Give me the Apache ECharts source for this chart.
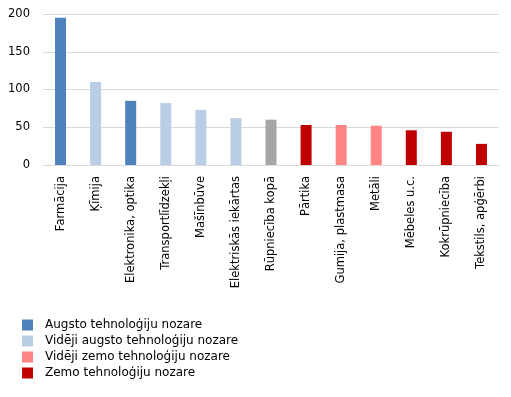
<!DOCTYPE html>
<html>
<head>
<meta charset="utf-8">
<script src="https://cdn.jsdelivr.net/npm/echarts@6/dist/echarts.min.js"></script>
<style>
  html, body { margin: 0; padding: 0; background: #fff; }
  #chart { width: 511px; height: 397px; }
</style>
</head>
<body>
<div id="chart"></div>
<script>
// nozares un vērtības
var categories = ['Farmācija', 'Ķīmija', 'Elektronika, optika', 'Transportlīdzekļi', 'Mašīnbūve',
  'Elektriskās iekārtas', 'Rūpniecība kopā', 'Pārtika', 'Gumija, plastmasa', 'Metāli',
  'Mēbeles u.c.', 'Kokrūpniecība', 'Tekstils, apģērbi'];
var values = [195, 110, 85, 82, 73, 62, 60, 53, 53, 52, 46, 44, 28];
// grupa katrai nozarei (0..3 = leģendas grupas, 4 = kopā)
var groups = [0, 1, 0, 1, 1, 1, 4, 3, 2, 2, 3, 3, 3];
var groupNames = ['Augsto tehnoloģiju nozare', 'Vidēji augsto tehnoloģiju nozare',
  'Vidēji zemo tehnoloģiju nozare', 'Zemo tehnoloģiju nozare', 'Kopā'];
var groupColors = ['#4F81BD', '#B9CDE5', '#FF8585', '#C00000', '#A6A6A6'];

document.addEventListener('DOMContentLoaded', function() {
  var myChart = echarts.init(document.getElementById('chart'));
  var font = 'DejaVu Sans';

  var series = groupNames.map(function(name, g) {
    return {
      name: name,
      type: 'bar',
      stack: 'all',
      barWidth: 11,
      itemStyle: { color: groupColors[g] },
      data: values.map(function(v, i) { return groups[i] === g ? v : null; })
    };
  });

  var option = {
    animation: false,
    textStyle: { fontFamily: font },
    grid: { left: 43, right: 12, top: 14, bottom: 232 },
    legend: {
      data: groupNames.slice(0, 4),
      orient: 'vertical',
      left: 22,
      top: 319,
      padding: 0,
      itemWidth: 11,
      itemHeight: 11,
      itemGap: 4,
      icon: 'rect',
      textStyle: { fontFamily: font, fontSize: 12, color: '#000', padding: [0, 0, 0, 7] }
    },
    xAxis: {
      type: 'category',
      data: categories,
      axisLine: { lineStyle: { color: '#D9D9D9' } },
      axisTick: { show: false },
      axisLabel: { rotate: 90, interval: 0, color: '#000', fontSize: 11.5, fontFamily: font, margin: 11 }
    },
    yAxis: {
      type: 'value',
      min: 0,
      max: 200,
      interval: 50,
      axisLine: { show: false },
      axisTick: { show: false },
      splitLine: { lineStyle: { color: '#D9D9D9' } },
      axisLabel: { color: '#000', fontSize: 11.5, fontFamily: font, margin: 13 }
    },
    series: series
  };

  myChart.setOption(option);

  window.addEventListener('resize', function() {
    myChart.resize();
  });
});
</script>
</body>
</html>
